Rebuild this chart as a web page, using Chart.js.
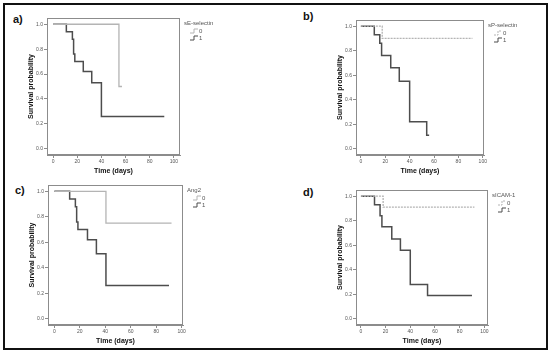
<!DOCTYPE html>
<html>
<head>
<meta charset="utf-8">
<script src="https://cdn.jsdelivr.net/npm/chart.js@4.4.1/dist/chart.umd.min.js"></script>
<style>
  html, body { margin: 0; padding: 0; background: #fff; }
  body { width: 550px; height: 354px; position: relative; overflow: hidden; font-family: "Liberation Sans", Arial, sans-serif; }
  .frame { position: absolute; left: 3px; top: 3px; width: 545px; height: 347px; border: 2px solid #111; box-sizing: border-box; }
  .tag { position: absolute; font-weight: bold; font-size: 11px; color: #111; line-height: 12px; }
  canvas { position: absolute; }
</style>
</head>
<body>
<div class="frame"></div>
<div class="tag" style="left:13px; top:13px;">a)</div>
<div class="tag" style="left:303px; top:10px;">b)</div>
<div class="tag" style="left:15px; top:184px;">c)</div>
<div class="tag" style="left:303px; top:186px;">d)</div>
<canvas id="chartA"></canvas>
<canvas id="chartB"></canvas>
<canvas id="chartC"></canvas>
<canvas id="chartD"></canvas>
<script>
// tick values shared by all panels
const xTicks = [0, 20, 40, 60, 80, 100];
const yTicks = [0, 0.2, 0.4, 0.6, 0.8, 1.0];
const groupLabels = ['0', '1'];

// a) sE-selectin
const daysA0 = [0, 54.5, 57];
const survA0 = [1, 0.5, 0.5];
const daysA1 = [0, 11, 16, 17, 18, 25, 32, 40, 92];
const survA1 = [1, 0.94, 0.88, 0.76, 0.70, 0.62, 0.53, 0.26, 0.26];

// b) sP-selectin
const daysB0 = [0, 17.5, 91.5];
const survB0 = [1, 0.90, 0.90];
const daysB1 = [0, 11, 15.5, 17, 24.5, 31.5, 40, 54, 56];
const survB1 = [1, 0.93, 0.86, 0.76, 0.66, 0.55, 0.22, 0.11, 0.11];

// c) Ang2
const daysC0 = [0, 40.5, 92];
const survC0 = [1, 0.75, 0.75];
const daysC1 = [0, 12, 16.5, 17.5, 18.5, 26, 33, 40.5, 90];
const survC1 = [1, 0.94, 0.88, 0.76, 0.70, 0.62, 0.51, 0.26, 0.26];

// d) sICAM-1
const daysD0 = [0, 18, 92];
const survD0 = [1, 0.91, 0.91];
const daysD1 = [0, 11, 15.5, 17, 25, 32, 40, 54, 90];
const survD1 = [1, 0.93, 0.84, 0.75, 0.65, 0.56, 0.28, 0.19, 0.19];

const FONT = '"Liberation Sans", Arial, sans-serif';
const LIGHT = '#b4b4b4';
const DARK = '#4d4d4d';
const AXIS = '#8c8c8c';
const Y_AXIS_W = 22;
const X_AXIS_H = 20;
const TOP_PAD = 6;
const RIGHT_PAD = 66;

const toPoints = (days, surv) => days.map((d, i) => ({ x: d, y: surv[i] }));

// frame around the plot area + SPSS-like legend with step symbols
const boxAndLegend = {
    id: 'boxAndLegend',
    beforeDatasetsDraw(chart) {
        const { ctx, chartArea: a } = chart;
        ctx.save();
        ctx.strokeStyle = AXIS;
        ctx.lineWidth = 1;
        ctx.strokeRect(Math.round(a.left) + 0.5, Math.round(a.top) + 0.5,
            Math.round(a.right - a.left) - 1, Math.round(a.bottom - a.top) - 1);
        ctx.restore();
    },
    afterDraw(chart, args, opts) {
        const { ctx, chartArea: a } = chart;
        const x = a.right + 4;
        ctx.save();
        ctx.font = '6px ' + FONT;
        ctx.fillStyle = '#555';
        ctx.textBaseline = 'middle';
        ctx.fillText(opts.title, x, a.top + 5);
        chart.data.datasets.forEach((ds, i) => {
            const y = a.top + 13 + i * 7;
            const sx = x + 6;
            ctx.strokeStyle = ds.borderColor;
            ctx.lineWidth = 1;
            ctx.setLineDash(ds.borderDash || []);
            ctx.beginPath();
            ctx.moveTo(sx, y + 2);
            ctx.lineTo(sx + 4, y + 2);
            ctx.lineTo(sx + 4, y - 2);
            ctx.lineTo(sx + 8, y - 2);
            ctx.stroke();
            ctx.setLineDash([]);
            ctx.fillText(ds.label, sx + 9, y);
        });
        ctx.restore();
    }
};

function makePanel(id, box, xRange, legendTitle, d0, s0, d1, s1, dashed) {
    const canvas = document.getElementById(id);
    const w = (box.r - box.l) + Y_AXIS_W + RIGHT_PAD;
    const h = (box.b - box.t) + TOP_PAD + X_AXIS_H;
    canvas.width = w;
    canvas.height = h;
    canvas.style.left = (box.l - Y_AXIS_W) + 'px';
    canvas.style.top = (box.t - TOP_PAD) + 'px';

    new Chart(canvas, {
        type: 'line',
        data: {
            datasets: [{
                label: groupLabels[0],
                data: toPoints(d0, s0),
                borderColor: LIGHT,
                borderWidth: 1.3,
                borderDash: dashed ? [2, 1] : [],
                stepped: 'before',
                pointRadius: 0,
                fill: false
            }, {
                label: groupLabels[1],
                data: toPoints(d1, s1),
                borderColor: DARK,
                borderWidth: 1.5,
                stepped: 'before',
                pointRadius: 0,
                fill: false
            }]
        },
        options: {
            responsive: false,
            animation: false,
            layout: { padding: { top: TOP_PAD, right: RIGHT_PAD, left: 0, bottom: 0 } },
            plugins: {
                legend: { display: false },
                tooltip: { enabled: false },
                boxAndLegend: { title: legendTitle }
            },
            scales: {
                x: {
                    type: 'linear',
                    min: xRange[0],
                    max: xRange[1],
                    afterBuildTicks: scale => { scale.ticks = xTicks.map(v => ({ value: v })); },
                    afterFit: scale => { scale.height = X_AXIS_H; },
                    grid: { drawOnChartArea: false, drawTicks: true, tickLength: 3, color: AXIS },
                    border: { display: true, color: AXIS },
                    ticks: { font: { size: 5, family: FONT }, color: '#555', padding: 1, maxRotation: 0 },
                    title: {
                        display: true,
                        text: 'Time (days)',
                        font: { size: 7, weight: 'bold', family: FONT },
                        color: '#111',
                        padding: 0
                    }
                },
                y: {
                    min: -0.05,
                    max: 1.05,
                    afterBuildTicks: scale => { scale.ticks = yTicks.map(v => ({ value: v })); },
                    afterFit: scale => { scale.width = Y_AXIS_W; },
                    grid: { drawOnChartArea: false, drawTicks: true, tickLength: 3, color: AXIS },
                    border: { display: true, color: AXIS },
                    ticks: {
                        font: { size: 5, family: FONT },
                        color: '#555',
                        padding: 1,
                        callback: v => v.toFixed(1)
                    },
                    title: {
                        display: true,
                        text: 'Survival probability',
                        font: { size: 7, weight: 'bold', family: FONT },
                        color: '#111',
                        padding: { top: 2, bottom: 0 }
                    }
                }
            }
        },
        plugins: [boxAndLegend]
    });
}

makePanel('chartA', { l: 47, t: 18, r: 180, b: 155 }, [-5, 105], 'sE-selectin', daysA0, survA0, daysA1, survA1, false);
makePanel('chartB', { l: 356, t: 20, r: 484, b: 155 }, [-4, 101], 'sP-selectin', daysB0, survB0, daysB1, survB1, true);
makePanel('chartC', { l: 48, t: 185, r: 183, b: 325 }, [-5, 101], 'Ang2', daysC0, survC0, daysC1, survC1, false);
makePanel('chartD', { l: 356, t: 190, r: 488, b: 325 }, [-4, 103], 'sICAM-1', daysD0, survD0, daysD1, survD1, true);
</script>
</body>
</html>
